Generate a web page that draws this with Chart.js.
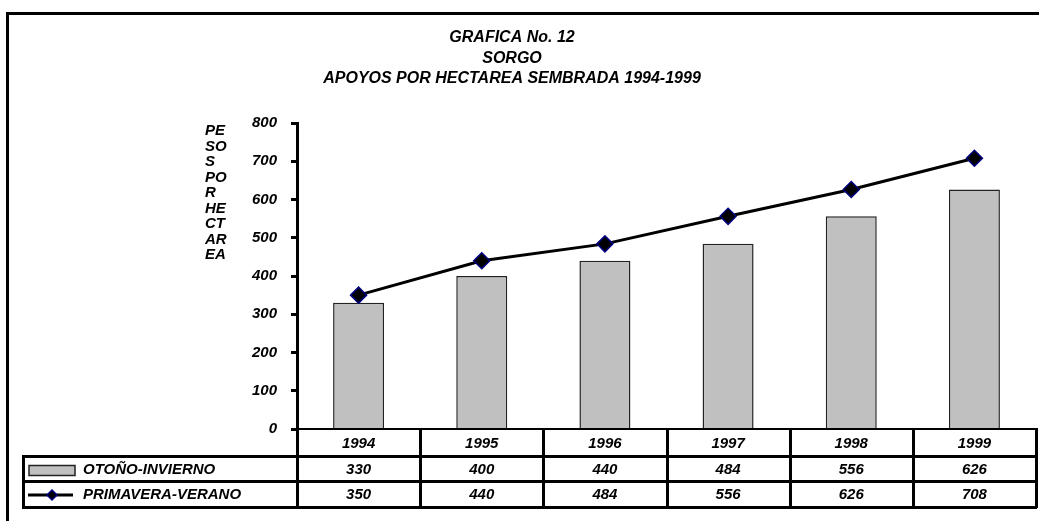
<!DOCTYPE html>
<html>
<head>
<meta charset="utf-8">
<script src="https://cdn.jsdelivr.net/npm/chart.js@4/dist/chart.umd.min.js"></script>
<style>
  html, body { margin: 0; padding: 0; background: #fff; }
  #wrap { width: 1039px; height: 521px; position: relative; }
</style>
</head>
<body>
<div id="wrap"><canvas id="chart" width="1039" height="521"></canvas></div>
<script>
const years = ['1994', '1995', '1996', '1997', '1998', '1999'];
const otonoInvierno = [330, 400, 440, 484, 556, 626];
const primaveraVerano = [350, 440, 484, 556, 626, 708];
const seriesNames = ['OTOÑO-INVIERNO', 'PRIMAVERA-VERANO'];
const titleLines = ['GRAFICA No. 12', 'SORGO', 'APOYOS POR HECTAREA SEMBRADA 1994-1999'];
const yTitleLines = ['PE', 'SO', 'S', 'PO', 'R', 'HE', 'CT', 'AR', 'EA'];

const FAMILY = '"Liberation Sans", Arial, sans-serif';
const FONT = 'italic bold 15px ' + FAMILY;

// frame, titles and the data table under the plot
const extras = {
    id: 'extras',
    afterDraw(chart) {
        const ctx = chart.ctx;
        const x = chart.scales.x;
        const area = chart.chartArea;
        ctx.save();

        // outer frame (top + left only)
        ctx.fillStyle = '#000';
        ctx.fillRect(6, 12, 1033, 3);
        ctx.fillRect(6, 12, 3, 509);

        ctx.textBaseline = 'middle';
        ctx.textAlign = 'center';
        ctx.font = 'italic bold 16px ' + FAMILY;
        titleLines.forEach((t, i) => ctx.fillText(t, 512, 38 + i * 20.5));

        ctx.font = FONT;
        ctx.textAlign = 'left';
        yTitleLines.forEach((t, i) => ctx.fillText(t, 205, 131 + i * 15.5));

        // table
        const w = (area.right - area.left) / years.length;
        const rows = [area.bottom, 456, 481, 507];
        const tableLeft = 22;
        ctx.fillStyle = '#000';
        ctx.fillRect(area.left - 1, rows[0] - 1, area.right - area.left + 2, 2);
        for (let r = 1; r < rows.length; r++) {
            ctx.fillRect(tableLeft, rows[r] - 1, area.right - tableLeft + 1, 3);
        }
        ctx.fillRect(tableLeft, rows[1] - 1, 3, rows[3] - rows[1] + 2);
        for (let i = 0; i <= years.length; i++) {
            const px = Math.round(area.left + i * w);
            ctx.fillRect(px - 1, rows[0] - 1, 3, rows[3] - rows[0] + 2);
        }

        const rowData = [years, otonoInvierno, primaveraVerano];
        ctx.textAlign = 'center';
        rowData.forEach((vals, r) => {
            const cy = (rows[r] + rows[r + 1]) / 2 + 1;
            vals.forEach((v, i) => {
                ctx.fillText(String(v), x.getPixelForValue(i), cy);
            });
        });

        // legend keys in the table
        ctx.textAlign = 'left';
        const cy1 = (rows[1] + rows[2]) / 2 + 1;
        ctx.fillStyle = '#c0c0c0';
        ctx.fillRect(29, cy1 - 4, 46, 10);
        ctx.strokeStyle = '#222';
        ctx.lineWidth = 1.5;
        ctx.strokeRect(29, cy1 - 4, 46, 10);
        ctx.fillStyle = '#000';
        ctx.fillText(seriesNames[0], 83, cy1);

        const cy2 = (rows[2] + rows[3]) / 2 + 1;
        ctx.strokeStyle = '#000';
        ctx.lineWidth = 3;
        ctx.beginPath();
        ctx.moveTo(28, cy2);
        ctx.lineTo(73, cy2);
        ctx.stroke();
        ctx.beginPath();
        ctx.moveTo(52, cy2 - 5);
        ctx.lineTo(57, cy2);
        ctx.lineTo(52, cy2 + 5);
        ctx.lineTo(47, cy2);
        ctx.closePath();
        ctx.fillStyle = '#000';
        ctx.fill();
        ctx.strokeStyle = '#000080';
        ctx.lineWidth = 1.5;
        ctx.stroke();
        ctx.fillStyle = '#000';
        ctx.fillText(seriesNames[1], 83, cy2);

        ctx.restore();
    }
};

new Chart(document.getElementById('chart'), {
    type: 'bar',
    data: {
        labels: years,
        datasets: [{
            type: 'line',
            label: seriesNames[1],
            data: primaveraVerano,
            borderColor: '#000',
            borderWidth: 3,
            pointStyle: 'rectRot',
            pointRadius: 8,
            pointBackgroundColor: '#000',
            pointBorderColor: '#000080',
            pointBorderWidth: 1.5,
            tension: 0,
            order: 0
        }, {
            label: seriesNames[0],
            data: otonoInvierno,
            backgroundColor: '#c0c0c0',
            borderColor: '#222',
            borderWidth: 1.5,
            barPercentage: 0.414,
            categoryPercentage: 1,
            order: 1
        }]
    },
    options: {
        responsive: false,
        animation: false,
        layout: { autoPadding: false, padding: { left: 0, right: 3, top: 123, bottom: 92 } },
        plugins: {
            legend: { display: false },
            tooltip: { enabled: false },
            title: { display: false }
        },
        scales: {
            x: { display: false, offset: true },
            y: {
                min: 0,
                max: 800,
                afterFit(scale) { scale.width = 297; },
                ticks: {
                    stepSize: 100,
                    padding: 14,
                    color: '#000',
                    font: { family: FAMILY, size: 15, style: 'italic', weight: 'bold' }
                },
                grid: {
                    drawOnChartArea: false,
                    tickLength: 6,
                    tickWidth: 3,
                    tickColor: '#000'
                },
                border: { display: true, color: '#000', width: 3 }
            }
        }
    },
    plugins: [extras]
});
</script>
</body>
</html>
